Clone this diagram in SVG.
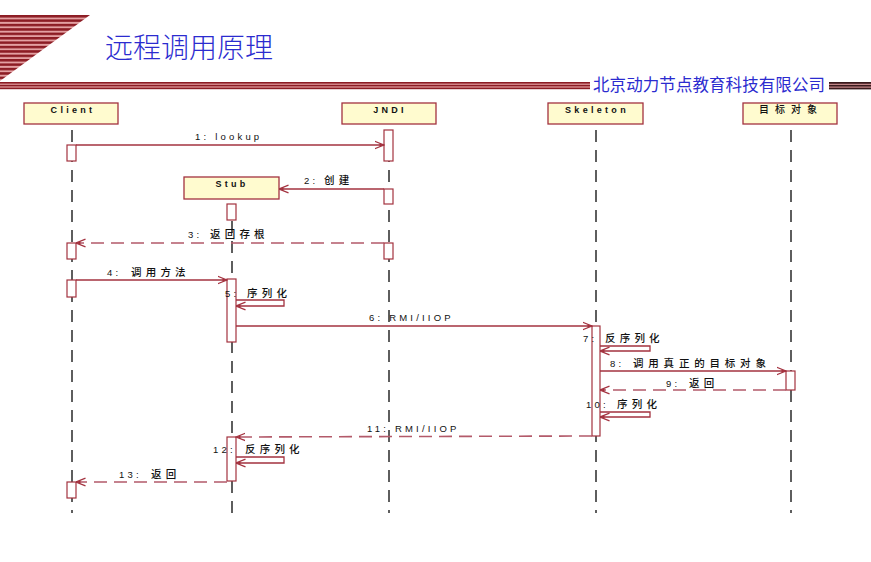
<svg xmlns="http://www.w3.org/2000/svg" width="871" height="562" viewBox="0 0 871 562">
<style>
.box{fill:#fffbcf;stroke:#a3323f;stroke-width:1.3}
.act{fill:#ffffff;stroke:#a3323f;stroke-width:1.2}
.life{stroke:#2a2a2a;stroke-width:1.5;stroke-dasharray:12 8;fill:none}
.msg{stroke:#a3323f;stroke-width:1.3;fill:none}
.ret{stroke:#b35a6a;stroke-width:1.6;fill:none;stroke-dasharray:13 7}
.nm{font-family:"Liberation Sans","Noto Sans CJK SC",sans-serif;font-size:9px;font-weight:bold;letter-spacing:3.3px;fill:#111}
.lb{font-family:"Liberation Sans","Noto Sans CJK SC",sans-serif;font-size:9.5px;letter-spacing:3.2px;fill:#111}
.cj{font-family:"Noto Sans CJK SC",sans-serif;font-size:10.5px;letter-spacing:4.2px;font-weight:500}
</style>
<defs>
<marker id="arr" viewBox="0 0 10 10" refX="9.5" refY="5" markerWidth="10" markerHeight="10" markerUnits="userSpaceOnUse" orient="auto">
<path d="M0,1.2 L9.5,5 L0,8.8" fill="none" stroke="#a3323f" stroke-width="1.3" stroke-dasharray="none"/>
<path d="M5,3.4 L9.5,5 L5,6.6 Z" fill="#a3323f" stroke="none"/>
</marker>
<pattern id="stripes" patternUnits="userSpaceOnUse" x="0" y="15" width="20" height="4.4">
<rect x="0" y="0" width="20" height="4.4" fill="#e3a0a2"/>
<rect x="0" y="0" width="20" height="2.5" fill="#8c1c24"/>
</pattern>
</defs>
<rect width="871" height="562" fill="#ffffff"/>
<g id="header">
<polygon points="0,15 90,15 0,81" fill="url(#stripes)"/>
<rect x="0" y="82" width="590" height="7" fill="#e3a0a2"/>
<rect x="0" y="82" width="590" height="1.6" fill="#8c1c24"/>
<rect x="0" y="84.8" width="590" height="1.6" fill="#8c1c24"/>
<rect x="0" y="87.6" width="590" height="1.6" fill="#8c1c24"/>
<rect x="829" y="82" width="42" height="7" fill="#e3a0a2"/>
<rect x="829" y="82" width="42" height="1.8" fill="#3a1a1c"/>
<rect x="829" y="84.8" width="42" height="1.8" fill="#3a1a1c"/>
<rect x="829" y="87.6" width="42" height="1.8" fill="#3a1a1c"/>
<text x="105" y="58" font-family="Noto Sans CJK SC,sans-serif" font-size="28" font-weight="300" fill="#2b2bcf">远程调用原理</text>
<text x="593" y="90.5" font-family="Noto Sans CJK SC,sans-serif" font-size="16.5" fill="#2b2bcf" textLength="232" lengthAdjust="spacing">北京动力节点教育科技有限公司</text>
</g>
<g id="node-client">
<line class="life" x1="72" y1="130" x2="72" y2="513"/>
<rect class="box" x="24" y="103" width="94" height="21"/>
<text class="nm" x="73" y="113" text-anchor="middle">Client</text>
<rect class="act" x="67" y="145" width="9" height="16"/>
<rect class="act" x="67" y="243" width="9" height="16"/>
<rect class="act" x="67" y="280" width="9" height="17"/>
<rect class="act" x="67" y="482" width="9" height="16"/>
</g>
<g id="node-jndi">
<line class="life" x1="389" y1="130" x2="389" y2="513"/>
<rect class="box" x="342" y="103" width="94" height="21"/>
<text class="nm" x="390" y="113" text-anchor="middle">JNDI</text>
<rect class="act" x="384" y="130" width="9" height="31"/>
<rect class="act" x="384" y="189" width="9" height="15"/>
<rect class="act" x="384" y="243" width="9" height="16"/>
</g>
<g id="node-stub">
<line class="life" x1="232" y1="221" x2="232" y2="517"/>
<rect class="box" x="184" y="177" width="95" height="22"/>
<text class="nm" x="232" y="187" text-anchor="middle">Stub</text>
<rect class="act" x="227" y="204" width="9" height="16"/>
<rect class="act" x="227" y="279" width="9" height="63"/>
<rect class="act" x="227" y="437" width="9" height="44"/>
</g>
<g id="node-skeleton">
<line class="life" x1="596" y1="130" x2="596" y2="513"/>
<rect class="box" x="548" y="103" width="95" height="21"/>
<text class="nm" x="597" y="113" text-anchor="middle">Skeleton</text>
<rect class="act" x="592" y="326" width="8" height="110"/>
</g>
<g id="node-target">
<line class="life" x1="791" y1="130" x2="791" y2="513"/>
<rect class="box" x="743" y="103" width="94" height="21"/>
<text class="nm" x="791" y="113" text-anchor="middle" style="font-size:10px;letter-spacing:6px;font-weight:500">目标对象</text>
<rect class="act" x="786" y="371" width="9" height="19"/>
</g>
<g id="connectors">
<line class="msg" x1="76" y1="145" x2="384" y2="145" marker-end="url(#arr)"/>
<text class="lb" x="195" y="140">1: lookup</text>
<line class="msg" x1="384" y1="189" x2="279" y2="189" marker-end="url(#arr)"/>
<text class="lb" x="304" y="184">2: <tspan class="cj" x="324">创建</tspan></text>
<line class="ret" x1="384" y1="243" x2="76" y2="243" marker-end="url(#arr)"/>
<text class="lb" x="188" y="238">3: <tspan class="cj" x="210">返回存根</tspan></text>
<line class="msg" x1="76" y1="280" x2="227" y2="280" marker-end="url(#arr)"/>
<text class="lb" x="107" y="276">4: <tspan class="cj" x="131">调用方法</tspan></text>
<polyline class="msg" points="236,300 284,300 284,306 236,306" marker-end="url(#arr)"/>
<text class="lb" x="225" y="297">5: <tspan class="cj" x="247">序列化</tspan></text>
<line class="msg" x1="236" y1="326" x2="592" y2="326" marker-end="url(#arr)"/>
<text class="lb" x="369" y="321">6: RMI/IIOP</text>
<polyline class="msg" points="600,346 650,346 650,351 600,351" marker-end="url(#arr)"/>
<text class="lb" x="583" y="342">7: <tspan class="cj" x="605">反序列化</tspan></text>
<line class="msg" x1="600" y1="371" x2="786" y2="371" marker-end="url(#arr)"/>
<text class="lb" x="610" y="367">8: <tspan class="cj" x="633" style="letter-spacing:4.8px">调用真正的目标对象</tspan></text>
<line class="ret" x1="786" y1="390" x2="600" y2="390" marker-end="url(#arr)"/>
<text class="lb" x="666" y="387">9: <tspan class="cj" x="689">返回</tspan></text>
<polyline class="msg" points="600,412 650,412 650,417 600,417" marker-end="url(#arr)"/>
<text class="lb" x="586" y="408">10: <tspan class="cj" x="617">序列化</tspan></text>
<line class="ret" x1="592" y1="436" x2="236" y2="437" marker-end="url(#arr)"/>
<text class="lb" x="367" y="432">11: RMI/IIOP</text>
<polyline class="msg" points="236,457 284,457 284,463 236,463" marker-end="url(#arr)"/>
<text class="lb" x="213" y="453">12: <tspan class="cj" x="245">反序列化</tspan></text>
<line class="ret" x1="227" y1="482" x2="76" y2="482" marker-end="url(#arr)"/>
<text class="lb" x="119" y="478">13: <tspan class="cj" x="151">返回</tspan></text>
</g>
</svg>
